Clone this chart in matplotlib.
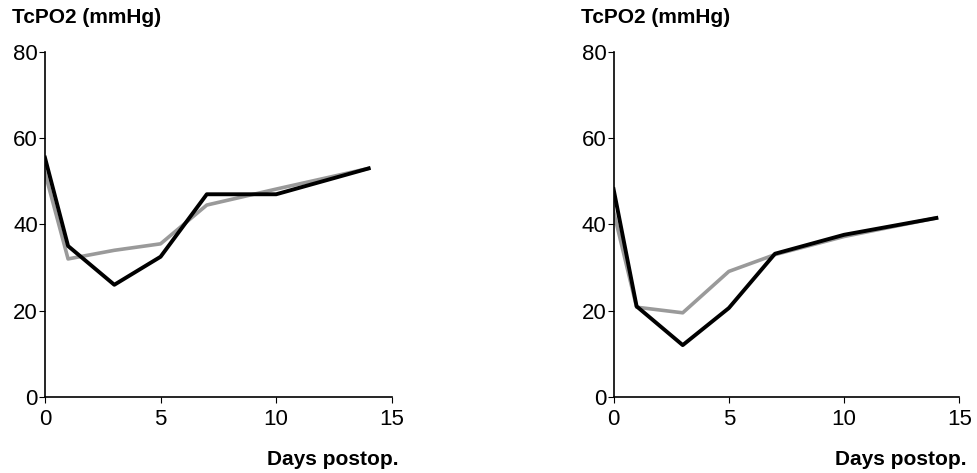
import matplotlib.pyplot as plt

plt.rcParams['font.family'] = ['Liberation Sans', 'DejaVu Sans']

days = [0, 1, 3, 5, 7, 10, 14]

# left panel
left_black = [55.5, 35, 26, 32.5, 47, 47, 53]
left_gray = [52, 32, 34, 35.5, 44.5, 48.2, 53]

# right panel
right_black = [48.2, 21, 12, 20.6, 33.2, 37.6, 41.5]
right_gray = [43, 20.8, 19.5, 29.1, 33, 37.2, 41.5]

xticks = [0, 5, 10, 15]
yticks = [0, 20, 40, 60, 80]

fig = plt.figure(figsize=(9.77, 4.73), dpi=100)
ax1 = fig.add_axes([0.046, 0.161, 0.355, 0.729])
ax2 = fig.add_axes([0.628, 0.161, 0.354, 0.729])

for ax, black, gray, x0 in [(ax1, left_black, left_gray, 0.012),
                             (ax2, right_black, right_gray, 0.595)]:
    ax.plot(days, gray, color='#9a9a9a', lw=2.6, zorder=2)
    ax.plot(days, black, color='black', lw=2.8, zorder=3)
    ax.set_xlim(0, 15)
    ax.set_ylim(0, 80)
    ax.set_xticks(xticks)
    ax.set_yticks(yticks)
    ax.spines['top'].set_visible(False)
    ax.spines['right'].set_visible(False)
    ax.spines['left'].set_linewidth(1.2)
    ax.spines['bottom'].set_linewidth(1.2)
    ax.tick_params(axis='both', labelsize=16, length=4, width=0.8, pad=5)
    ax.tick_params(axis='y', pad=1)
    fig.text(x0, 0.963, 'TcPO2 (mmHg)', fontsize=15, fontweight='bold',
             ha='left', va='center')
    pos = ax.get_position()
    fig.text(pos.x1 + 0.007, 0.028, 'Days postop.', fontsize=15, fontweight='bold',
             ha='right', va='center')

fig.savefig('out.png', dpi=100)
